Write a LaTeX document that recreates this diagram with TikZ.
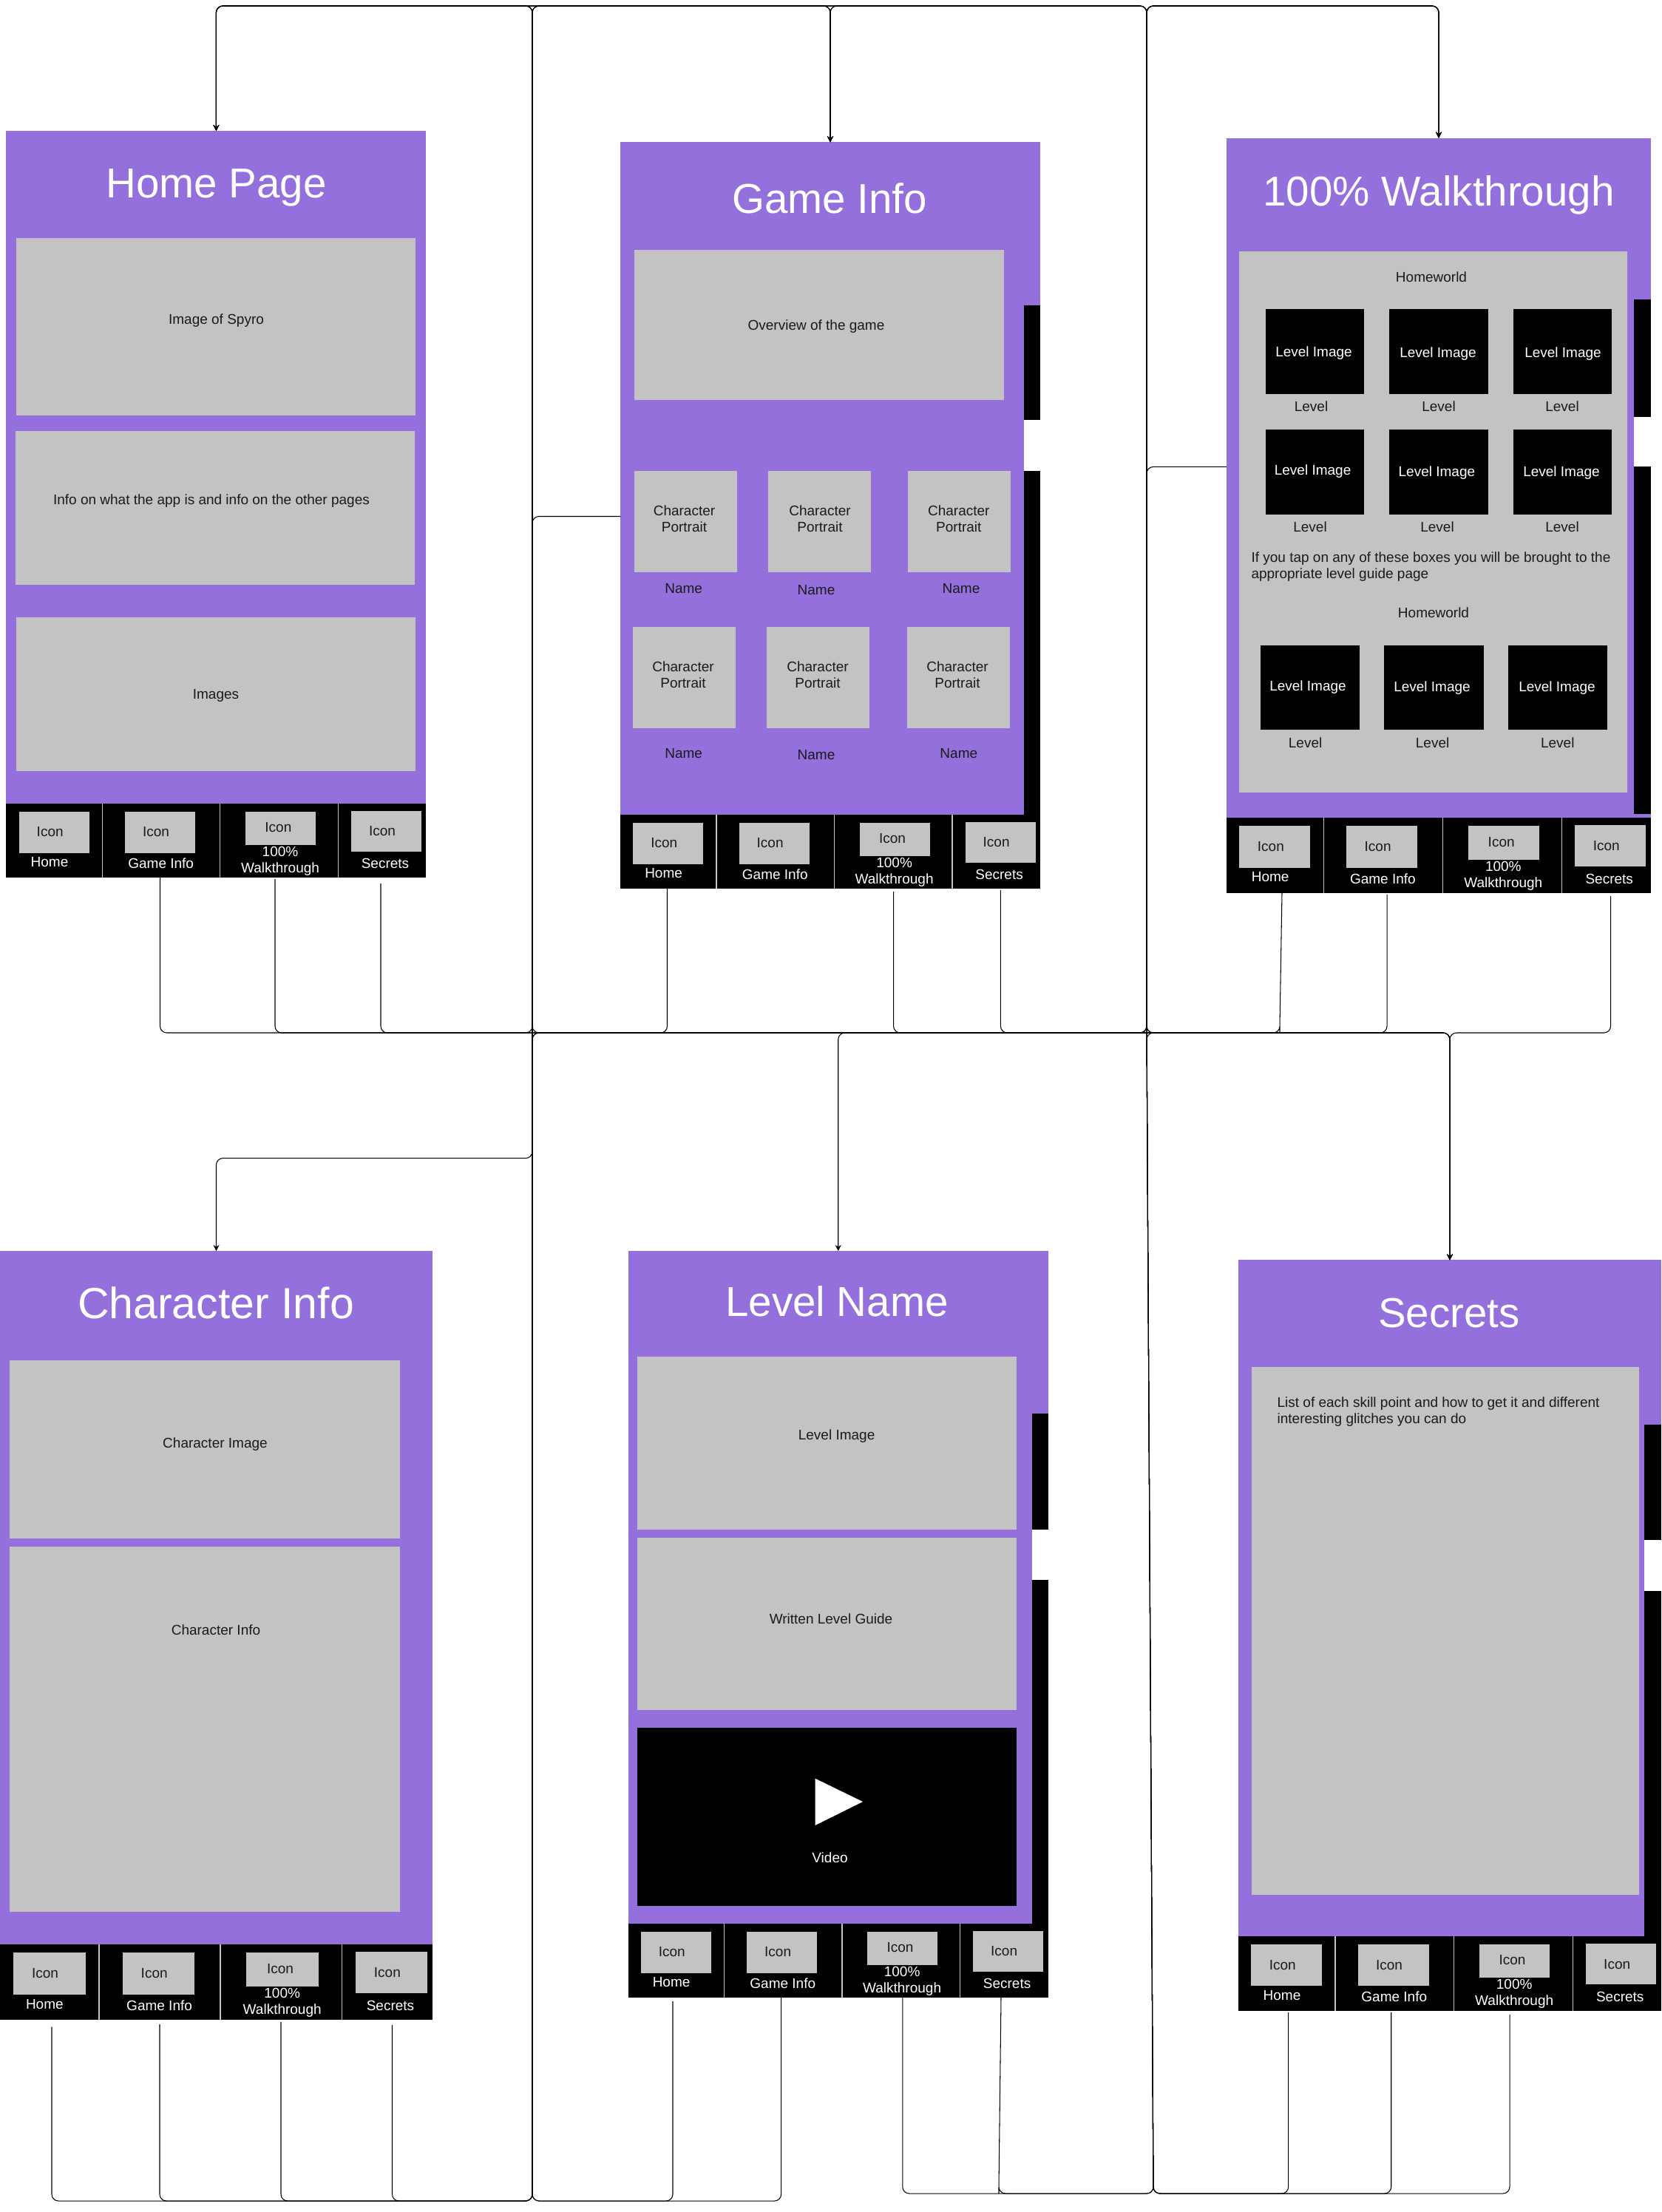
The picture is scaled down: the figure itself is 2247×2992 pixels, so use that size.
\documentclass[tikz,border=0pt]{standalone}
\usepackage{fontspec}
\setmainfont{Liberation Sans}
\usetikzlibrary{arrows.meta}
\definecolor{pagepurple}{HTML}{9370DB}
\definecolor{panelgrey}{HTML}{C3C3C3}
\definecolor{inktext}{HTML}{1A1A1A}
\tikzset{
  flat/.style={inner sep=0pt,outer sep=0pt,draw=none},
  framebox/.style={flat,fill=pagepurple},
  greybox/.style={flat,fill=panelgrey},
  blackbox/.style={flat,fill=black},
  whitebox/.style={flat,fill=white},
  lbl/.style={inner sep=0pt,outer sep=0pt,text=inktext,align=center,font=\fontsize{19}{22}\selectfont},
  slbl/.style={lbl,text height=13.6pt,text depth=0pt},
  wlbl/.style={slbl,text=white},
  wmlbl/.style={lbl,text=white},
  plbl/.style={lbl,align=left,anchor=west},
  ttl/.style={inner sep=0pt,outer sep=0pt,text=white,text height=40.5pt,text depth=0pt,font=\fontsize{56.5}{60}\selectfont},
  conn/.style={draw=black,line width=1.05pt,rounded corners=9pt},
  connarrow/.style={conn,-{Stealth[length=8pt,width=8pt]}},
  sepline/.style={draw=panelgrey,line width=1.5pt}
}
\newcounter{autoname}
\newcommand{\rbox}[6]{\node[#2,minimum width={(#5-#3)*1pt},minimum height={(#6-#4)*1pt}] (#1) at ({(#3+#5)/2},{(#4+#6)/2}) {};}
\newcommand{\gb}[4]{\stepcounter{autoname}\rbox{g\arabic{autoname}}{greybox}{#1}{#2}{#3}{#4}}
\newcommand{\bb}[4]{\stepcounter{autoname}\rbox{b\arabic{autoname}}{blackbox}{#1}{#2}{#3}{#4}}
\newcommand{\wb}[4]{\stepcounter{autoname}\rbox{w\arabic{autoname}}{whitebox}{#1}{#2}{#3}{#4}}
\newcommand{\lab}[3]{\stepcounter{autoname}\node[slbl] (t\arabic{autoname}) at (#1,#2) {#3};}
\newcommand{\mlab}[3]{\stepcounter{autoname}\node[lbl] (t\arabic{autoname}) at (#1,#2) {#3};}
\newcommand{\wlab}[3]{\stepcounter{autoname}\node[wlbl] (t\arabic{autoname}) at (#1,#2) {#3};}
\newcommand{\ttlab}[3]{\stepcounter{autoname}\node[ttl] (t\arabic{autoname}) at (#1,#2) {#3};}
% prefix, x0, y0, sx, sy
\newcommand{\tabbar}[5]{%
\begin{scope}[shift={(#2,#3)},xscale=#4,yscale=#5]
\def\sx{#4}\def\sy{#5}
\node[blackbox,anchor=north west,minimum width={568*\sx*1pt},minimum height={100*\sy*1pt}] (#1bar) at (0,0) {};
\node[greybox,minimum width={95*\sx*1pt},minimum height={55.7*\sy*1pt}] (#1i1) at (64.65,38.85) {};
\node[greybox,minimum width={95*\sx*1pt},minimum height={55.7*\sy*1pt}] (#1i2) at (208.3,38.85) {};
\node[greybox,minimum width={95*\sx*1pt},minimum height={44.7*\sy*1pt}] (#1i3) at (371,33.35) {};
\node[greybox,minimum width={95*\sx*1pt},minimum height={55*\sy*1pt}] (#1i4) at (514,37.5) {};
\coordinate (#1s1a) at (130,0); \coordinate (#1s1b) at (130,100);
\coordinate (#1s2a) at (289.3,0); \coordinate (#1s2b) at (289.3,100);
\coordinate (#1s3a) at (449,0); \coordinate (#1s3b) at (449,100);
\draw[sepline] (#1s1a) -- (#1s1b);
\draw[sepline] (#1s2a) -- (#1s2b);
\draw[sepline] (#1s3a) -- (#1s3b);
\node[slbl] (#1il1) at (59.3,38) {Icon};
\node[slbl] (#1il2) at (202.6,38) {Icon};
\node[slbl] (#1il3) at (368,32) {Icon};
\node[slbl] (#1il4) at (508.6,37) {Icon};
\node[wlbl] (#1n1) at (58.6,79) {Home};
\node[wlbl] (#1n2) at (209.3,81) {Game Info};
\node[wmlbl] (#1n3) at (370.6,77.5) {100\%\\Walkthrough};
\node[wlbl] (#1n4) at (512.6,81) {Secrets};
\end{scope}}
\newcommand{\sidestrip}[6]{% x1 x2 top gaptop gapbottom bottom
\bb{#1}{#3}{#2}{#4}\wb{#1}{#4}{#2}{#5}\bb{#1}{#5}{#2}{#6}}
\begin{document}
\begin{tikzpicture}[x=1pt,y=-1pt]
\useasboundingbox (0,0) rectangle (2247,2992);
% ---------- Home Page
\rbox{H}{framebox}{8.4}{177}{576.4}{1087}
\ttlab{292.5}{247}{Home Page}
\gb{22}{322}{562}{561.5}\lab{292.5}{431.5}{Image of Spyro}
\gb{21}{582.6}{560.5}{791}\lab{286}{676}{Info on what the app is and info on the other pages}
\gb{22}{835}{562}{1043}\lab{292}{939}{Images}
\tabbar{h}{8.4}{1087}{1}{1}
% ---------- Game Info
\rbox{G}{framebox}{839}{192.3}{1407}{1102}
\ttlab{1122}{268}{Game Info}
\sidestrip{1385}{1407}{413}{568}{637}{1102}
\gb{857.5}{338}{1357.7}{540.5}
\lab{1104}{440}{Overview of the game}
\gb{858}{637}{996.5}{774}\mlab{925.5}{701.5}{Character\\Portrait}\lab{924.7}{796}{Name}
\gb{1038.7}{637}{1177.8}{774}\mlab{1109}{701.5}{Character\\Portrait}\lab{1104}{798}{Name}
\gb{1228}{637}{1367}{774}\mlab{1296.8}{701.5}{Character\\Portrait}\lab{1300}{796}{Name}
\gb{855.5}{847.6}{994.5}{985.4}\mlab{924}{912.5}{Character\\Portrait}\lab{924.7}{1019}{Name}
\gb{1037.3}{847.6}{1176.3}{985.4}\mlab{1106}{912.5}{Character\\Portrait}\lab{1104}{1021}{Name}
\gb{1226.5}{847.6}{1365.6}{985.4}\mlab{1295}{912.5}{Character\\Portrait}\lab{1296.8}{1019}{Name}
\tabbar{g}{839}{1102}{1}{1}
% ---------- 100% Walkthrough
\rbox{W}{framebox}{1659}{186.6}{2233}{1106}
\ttlab{1946}{258}{100\% Walkthrough}
\sidestrip{2210}{2233}{404.7}{563.5}{631.4}{1101}
\gb{1676}{339.6}{2201}{1071.5}
\lab{1936}{375}{Homeworld}
\bb{1712}{418}{1845}{533}\wlab{1777}{475.5}{Level Image}\lab{1773.5}{550}{Level}
\bb{1879}{418}{2013}{533}\wlab{1945}{476.4}{Level Image}\lab{1946}{550}{Level}
\bb{2046.6}{418}{2180}{533}\wlab{2114}{476.4}{Level Image}\lab{2113}{550}{Level}
\bb{1712}{580.7}{1845}{695.5}\wlab{1775.6}{636}{Level Image}\lab{1772}{712.7}{Level}
\bb{1879}{580.7}{2013}{695.5}\wlab{1943.4}{638}{Level Image}\lab{1944}{712.7}{Level}
\bb{2046.6}{580.7}{2180}{695.5}\wlab{2112}{638}{Level Image}\lab{2113}{712.7}{Level}
\stepcounter{autoname}\node[plbl] (t\arabic{autoname}) at (1692.5,766.5) {If you tap on any of these boxes you will be brought to the\\appropriate level guide page};
\lab{1939}{828.5}{Homeworld}
\bb{1705}{872.5}{1839}{987}\wlab{1769}{928}{Level Image}\lab{1765.6}{1004.5}{Level}
\bb{1872}{872.5}{2006.5}{987}\wlab{1937}{929}{Level Image}\lab{1937.6}{1004.5}{Level}
\bb{2040}{872.5}{2174}{987}\wlab{2106}{929}{Level Image}\lab{2106.8}{1004.5}{Level}
\tabbar{w}{1659}{1106}{1.01}{1.015}
% ---------- Character Info
\rbox{C}{framebox}{0}{1692}{585}{2629.5}
\stepcounter{autoname}\node[ttl,font=\fontsize{59}{62}\selectfont,text height=42.5pt] (t\arabic{autoname}) at (292,1762) {Character Info};
\gb{13}{1840}{541}{2080.5}\lab{291}{1952}{Character Image}
\gb{13}{2092}{541}{2585.5}\lab{292}{2205}{Character Info}
\tabbar{c}{0}{2629.5}{1.03}{1.025}
% ---------- Level Name
\rbox{L}{framebox}{849.5}{1692}{1418}{2601.7}
\ttlab{1132}{1760}{Level Name}
\sidestrip{1396}{1418}{1912}{2069}{2137}{2601.7}
\gb{861.6}{1835.4}{1375}{2069}\lab{1131.6}{1941}{Level Image}
\gb{861.6}{2080}{1375}{2313}\lab{1124}{2190}{Written Level Guide}
\bb{861.6}{2337}{1375}{2578}
\fill[white] (1102.5,2405.6) -- (1167,2437) -- (1102.5,2469) -- cycle;
\wlab{1122.5}{2513}{Video}
\tabbar{l}{849.5}{2601.7}{1}{1.005}
% ---------- Secrets
\rbox{S}{framebox}{1675}{1704.4}{2247}{2619}
\ttlab{1960}{1775}{Secrets}
\sidestrip{2224}{2247}{1927}{2083}{2152}{2619}
\gb{1692.5}{1849}{2217}{2562.5}
\stepcounter{autoname}\node[plbl] (t\arabic{autoname}) at (1727.6,1910) {List of each skill point and how to get it and different\\interesting glitches you can do};
\tabbar{s}{1675}{2619}{1.007}{1.005}
% ---------- connector junctions
\coordinate (j1) at (720,1397);
\coordinate (j2) at (1551,1397);
\coordinate (j3) at (1961,1397);
\coordinate (t1) at (720,8);
\coordinate (t2) at (1551,8);
\coordinate (b1) at (720,2977);
\coordinate (b2) at (1560,2967);
\coordinate (k1) at (720,1566.6);
\coordinate (gside) at (839,698.5);
\coordinate (gcorner) at (720,698.5);
\coordinate (wside) at (1659,631.4);
\coordinate (wcorner) at (1551,631.4);
% tab ends
\coordinate (h2) at (216.5,1187);
\coordinate (h3) at (372,1189);
\coordinate (h4) at (515,1195);
\coordinate (g1) at (902.5,1202);
\coordinate (g3) at (1208.6,1206);
\coordinate (g4) at (1353.4,1204);
\coordinate (w1) at (1734,1207);
\coordinate (w1b) at (1731,1388);
\coordinate (w2) at (1876,1210);
\coordinate (w4) at (2178.5,1212);
\coordinate (c1) at (70,2741.6);
\coordinate (c2) at (216,2738);
\coordinate (c3) at (380,2735);
\coordinate (c4) at (530.5,2739);
\coordinate (l1) at (910,2707);
\coordinate (l2) at (1056.6,2702);
\coordinate (l3) at (1220.8,2702);
\coordinate (l4) at (1354,2702);
\coordinate (l4b) at (1351,2958);
\coordinate (s1) at (1742.6,2722);
\coordinate (s2) at (1881.7,2722);
\coordinate (s3) at (2042,2725);
% ---------- connectors
\draw[connarrow] (h2) |- (j1) -- (t1) -| (G.north);
\draw[connarrow] (h3) |- (j2) -- (t2) -| (W.north);
\draw[connarrow] (h4) |- (j3) -- (S.north);
\draw[connarrow] (g1) |- (j1) -- (t1) -| (H.north);
\draw[connarrow] (g3) |- (j2) -- (t2) -| (W.north);
\draw[connarrow] (g4) |- (j3) -- (S.north);
\draw[connarrow] (w1) -- (w1b) |- (j2) -- (t2) -| (H.north);
\draw[connarrow] (w2) |- (j2) -- (t2) -| (G.north);
\draw[connarrow] (w4) |- (j3) -- (S.north);
\draw[connarrow] (c1) |- (b1) -- (t1) -| (H.north);
\draw[connarrow] (c2) |- (b1) -- (t1) -| (G.north);
\draw[connarrow] (c3) |- (b1) -- (j1) -- (j2) -- (t2) -| (W.north);
\draw[connarrow] (c4) |- (b1) -- (j1) -- (j3) -- (S.north);
\draw[connarrow] (l1) |- (b1) -- (t1) -| (H.north);
\draw[connarrow] (l2) |- (b1) -- (t1) -| (G.north);
\draw[connarrow] (l3) |- (b2) -- (j2) -- (t2) -| (W.north);
\draw[connarrow] (l4) -- (l4b) |- (b2) -- (j2) -- (j3) -- (S.north);
\draw[connarrow] (s1) |- (b2) -- (j2) -- (t2) -| (H.north);
\draw[connarrow] (s2) |- (b2) -- (j2) -- (t2) -| (G.north);
\draw[connarrow] (s3) |- (b2) -- (j2) -- (t2) -| (W.north);
\draw[connarrow] (gside) -- (gcorner) -- (k1) -| (C.north);
\draw[connarrow] (wside) -- (wcorner) -- (j2) -| (L.north);
\end{tikzpicture}
\end{document}
